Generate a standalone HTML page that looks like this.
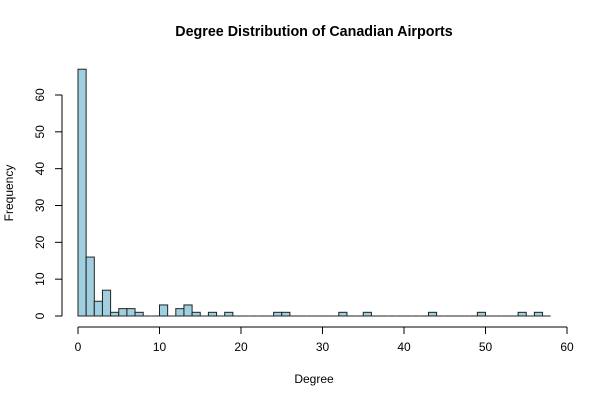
<!DOCTYPE html>
<html><head><meta charset="utf-8"><style>
body{margin:0;background:#fff;}
svg{display:block;font-family:"Liberation Sans",Arial,sans-serif;}
</style></head><body>
<svg id="chart" width="600" height="400">
<text x="314" y="36" text-anchor="middle" font-size="14.3" font-weight="bold">Degree Distribution of Canadian Airports</text>
<text x="314" y="383" text-anchor="middle" font-size="12">Degree</text>
<text transform="translate(13,193) rotate(-90)" text-anchor="middle" font-size="12">Frequency</text>
<g id="bars"></g>
<g id="xaxis"></g>
<g id="yaxis"></g>
</svg>
<script>
const counts = [67,16,4,7,1,2,2,1,0,0,3,0,2,3,1,0,1,0,1,0,0,0,0,0,1,1,0,0,0,0,0,0,1,0,0,1,0,0,0,0,0,0,0,1,0,0,0,0,0,1,0,0,0,0,1,0,1,0];
const binStart = 0, binWidth = 1;
const xTicks = [0,10,20,30,40,50,60];
const yTicks = [0,10,20,30,40,50,60];
const NS = "http://www.w3.org/2000/svg";
const xs = v => 78 + v * (567 - 78) / 60;
const ys = v => 316 - v * (316 - 95) / 60;
function mk(tag, attrs, parent){const e=document.createElementNS(NS,tag);for(const k in attrs)e.setAttribute(k,attrs[k]);parent.appendChild(e);return e;}
const bars=document.getElementById('bars');
counts.forEach((c,i)=>{
  const x0=xs(binStart+i*binWidth), x1=xs(binStart+(i+1)*binWidth);
  let r;
  if(c===0){
    r=mk('line',{x1:x0,x2:x1,y1:ys(0),y2:ys(0),stroke:'#222','stroke-width':1},bars);
  } else {
    r=mk('rect',{x:x0,y:ys(c),width:x1-x0,height:ys(0)-ys(c),fill:'#a0d0e0',stroke:'#222','stroke-width':1},bars);
  }
  
  
});
const xa=document.getElementById('xaxis');
mk('line',{x1:xs(0),x2:xs(60),y1:327,y2:327,stroke:'#000'},xa);
xTicks.forEach(t=>{
  mk('line',{x1:xs(t),x2:xs(t),y1:327,y2:334,stroke:'#000'},xa);
  const tx=mk('text',{x:xs(t),y:351,'text-anchor':'middle','font-size':12},xa);
  tx.textContent=t;
  
  
});
const ya=document.getElementById('yaxis');
mk('line',{x1:62,x2:62,y1:ys(0),y2:ys(60),stroke:'#000'},ya);
yTicks.forEach(t=>{
  mk('line',{x1:55,x2:62,y1:ys(t),y2:ys(t),stroke:'#000'},ya);
  const tx=mk('text',{transform:`translate(44,${ys(t)}) rotate(-90)`,'text-anchor':'middle','font-size':12},ya);
  tx.textContent=t;
  
  
});
</script>
</body></html>
